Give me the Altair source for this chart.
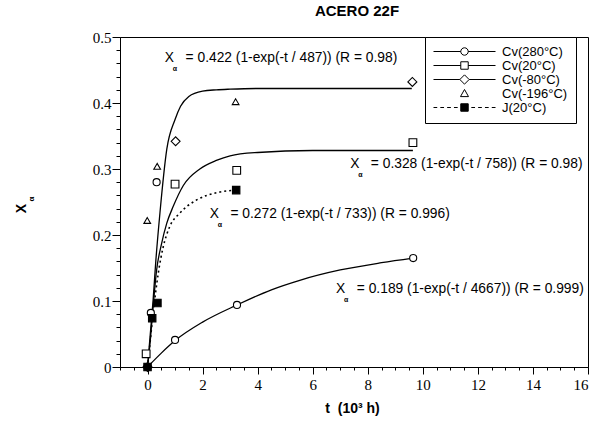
import altair as alt
import pandas as pd

# ---------------- data ----------------
series_names = ["Cv(280°C)", "Cv(20°C)", "Cv(-80°C)", "Cv(-196°C)", "J(20°C)"]

# measured points  (t in 10^3 h, X_alpha)
c280_t = [0.0, 0.12, 0.33, 1.0, 3.25, 9.65]
c280_x = [0.0, 0.082, 0.28, 0.041, 0.094, 0.165]
c20_t = [-0.05, 1.0, 3.24, 9.64]
c20_x = [0.02, 0.277, 0.298, 0.34]
cm80_t = [0.0, 1.02, 9.62]
cm80_x = [0.0, 0.342, 0.432]
cm196_t = [-0.01, 0.35, 3.2]
cm196_x = [0.222, 0.304, 0.402]
j20_t = [0.0, 0.17, 0.36, 3.22]
j20_x = [0.0, 0.074, 0.097, 0.268]

# fitted curves (as drawn)
fit1_t = [0, 0.1, 0.2, 0.3, 0.45, 0.7, 1.0, 1.2, 1.5, 2.0, 2.5, 3.0, 4.0, 6.0, 9.6]
fit1_x = [0, 0.05, 0.10, 0.16, 0.233, 0.33, 0.375, 0.395, 0.41, 0.418, 0.42, 0.421, 0.422, 0.422, 0.422]
fit2_t = [0, 0.1, 0.2, 0.33, 0.5, 0.7, 0.93, 1.3, 1.9, 2.5, 3.0, 4.0, 6.0, 9.64]
fit2_x = [0, 0.04, 0.09, 0.147, 0.185, 0.218, 0.243, 0.275, 0.30, 0.313, 0.32, 0.325, 0.328, 0.328]
fit3_t = [0, 0.1, 0.2, 0.3, 0.39, 0.57, 0.81, 1.17, 1.78, 2.5, 3.22]
fit3_x = [0, 0.04, 0.08, 0.115, 0.142, 0.182, 0.213, 0.233, 0.253, 0.264, 0.268]
fit4_t = [0, 0.5, 1.0, 2.0, 3.25, 4.5, 5.5, 7.0, 8.5, 9.65]
fit4_x = [0, 0.021, 0.04, 0.068, 0.094, 0.117, 0.131, 0.147, 0.158, 0.165]

# equations
NB = "\u00a0"
eq_text = [
    f"X{NB}{NB} = 0.422 (1-exp(-t / 487)) (R = 0.98)",
    f"X{NB}{NB} = 0.328 (1-exp(-t / 758)) (R = 0.98)",
    f"X{NB}{NB} = 0.272 (1-exp(-t / 733)) (R = 0.996)",
    f"X{NB}{NB} = 0.189 (1-exp(-t / 4667)) (R = 0.999)",
]
eq_t = [0.63, 7.36, 2.26, 6.85]
eq_x = [0.468, 0.308, 0.232, 0.118]

x_major_ticks = [0, 2, 4, 6, 8, 10, 12, 14, 16]
x_minor_ticks = [-1, -0.5, 0.5, 1, 1.5, 2.5, 3, 3.5, 4.5, 5, 5.5, 6.5, 7, 7.5, 8.5, 9, 9.5,
                 10.5, 11, 11.5, 12.5, 13, 13.5, 14.5, 15, 15.5]
y_major_ticks = [0, 0.1, 0.2, 0.3, 0.4, 0.5]
y_minor_ticks = [0.02, 0.04, 0.06, 0.08, 0.12, 0.14, 0.16, 0.18, 0.22, 0.24, 0.26, 0.28,
                 0.32, 0.34, 0.36, 0.38, 0.42, 0.44, 0.46, 0.48]

# ---------------- tables ----------------
pts = pd.concat([
    pd.DataFrame({"series": series_names[0], "t": c280_t, "x": c280_x}),
    pd.DataFrame({"series": series_names[1], "t": c20_t, "x": c20_x}),
    pd.DataFrame({"series": series_names[2], "t": cm80_t, "x": cm80_x}),
    pd.DataFrame({"series": series_names[3], "t": cm196_t, "x": cm196_x}),
    pd.DataFrame({"series": series_names[4], "t": j20_t, "x": j20_x}),
], ignore_index=True)

curves = pd.concat([
    pd.DataFrame({"curve": "a", "t": fit1_t, "x": fit1_x}),
    pd.DataFrame({"curve": "b", "t": fit2_t, "x": fit2_x}),
    pd.DataFrame({"curve": "d", "t": fit4_t, "x": fit4_x}),
], ignore_index=True)
dotted = pd.DataFrame({"curve": "c", "t": fit3_t, "x": fit3_x})
eqs = pd.DataFrame({"text": eq_text, "t": eq_t, "x": eq_x})

FONT = "Liberation Sans"
SERIF = "Times New Roman"

xscale = alt.Scale(domain=[-1, 16], nice=False, zero=False)
yscale = alt.Scale(domain=[0, 0.5], nice=False)

xaxis_major = alt.Axis(
    values=x_major_ticks, title=f"t{NB}{NB}(10³ h)", grid=False, orient="bottom",
    labelOverlap=False, labelFont=SERIF, labelFontSize=15, labelColor="black",
    tickSize=7, tickColor="black", domainColor="black", labelPadding=3,
    titleFont=FONT, titleFontSize=14, titleFontWeight="bold", titleColor="black",
    titleX=232, titleY=41, titleBaseline="middle", titleAlign="center",
)
yaxis_major = alt.Axis(
    values=y_major_ticks, title="X", grid=False, orient="left",
    labelExpr="datum.value == 0 ? '0' : format(datum.value, '.1f')",
    labelOverlap=False, labelFont=SERIF, labelFontSize=15, labelColor="black",
    tickSize=8, tickColor="black", domainColor="black", labelPadding=1,
    titleFont=FONT, titleFontSize=14, titleFontWeight="bold", titleColor="black",
    titleX=-99, titleY=171, titleBaseline="middle", titleAlign="center",
)
xaxis_minor = alt.Axis(values=x_minor_ticks, title=None, labels=False, domain=False,
                       grid=False, orient="bottom", tickSize=3, tickColor="black")
yaxis_minor = alt.Axis(values=y_minor_ticks, title=None, labels=False, domain=False,
                       grid=False, orient="left", tickSize=4, tickColor="black")

solid = alt.Chart(curves).mark_line(color="black", strokeWidth=1.3, interpolate="monotone").encode(
    x=alt.X("t:Q", scale=xscale, axis=xaxis_major),
    y=alt.Y("x:Q", scale=yscale, axis=yaxis_major),
    detail="curve:N")
dots = alt.Chart(dotted).mark_line(color="black", strokeWidth=1.6, strokeDash=[2, 3],
                                    interpolate="monotone").encode(
    x=alt.X("t:Q", scale=xscale, axis=xaxis_minor),
    y=alt.Y("x:Q", scale=yscale, axis=yaxis_minor))

NOAX_X = alt.X("t:Q", axis=None)
NOAX_Y = alt.Y("x:Q", axis=None)

shape_of = {
    series_names[0]: ("circle", "white", 50),
    series_names[1]: ("square", "white", 60),
    series_names[2]: ("diamond", "white", 80),
    series_names[3]: ("triangle-up", "white", 45),
    series_names[4]: ("square", "black", 55),
}
point_layers = []
for s in series_names:
    shp, fill, size = shape_of[s]
    point_layers.append(
        alt.Chart(pts).transform_filter(alt.datum.series == s).mark_point(
            shape=shp, fill=fill, stroke="black", strokeWidth=1.1, size=size,
            opacity=1, fillOpacity=1
        ).encode(x=NOAX_X, y=NOAX_Y)
    )

# legend symbols: line + marker drawn as custom paths
leg_paths = [
    "M-1,0H-0.12M0.12,0H1M0.12,0A0.12,0.12,0,1,1,-0.12,0A0.12,0.12,0,1,1,0.12,0Z",
    "M-1,0H-0.12M0.12,0H1M-0.12,-0.12H0.12V0.12H-0.12Z",
    "M-1,0H-0.15M0.15,0H1M0,-0.15L0.15,0L0,0.15L-0.15,0Z",
    "M0,-0.13L0.13,0.1L-0.13,0.1Z",
    "M-1,0H-0.88M-0.78,0H-0.66M-0.56,0H-0.44M-0.34,0H-0.22M0.22,0H0.34M0.44,0H0.56M0.66,0H0.78M0.88,0H1M-0.12,-0.12H0.12V0.12H-0.12Z",
]
leg = alt.Legend(title=None, orient="none", legendX=305, legendY=0, padding=8,
                 strokeColor="black", fillColor="white", clipHeight=13, rowPadding=0,
                 symbolSize=3844, symbolStrokeWidth=1, symbolStrokeColor="black",
                 labelFont=FONT, labelFontSize=13, labelOffset=6, labelColor="black",
                 symbolOpacity=1)
legend_layer = alt.Chart(pts).mark_point(clip=True, opacity=1).encode(
    x=alt.value(-300), y=alt.value(-300),
    shape=alt.Shape("series:N", scale=alt.Scale(domain=series_names, range=leg_paths), legend=leg),
    fill=alt.Fill("series:N", scale=alt.Scale(domain=series_names,
                  range=["white", "white", "white", "white", "black"]), legend=leg),
    stroke=alt.Stroke("series:N", scale=alt.Scale(domain=series_names,
                      range=["black", "black", "black", "black", "black"]), legend=leg),
)

eq_layer = alt.Chart(eqs).mark_text(align="left", baseline="middle", font=FONT,
                                    fontSize=13.8, color="black").encode(
    x=NOAX_X, y=NOAX_Y, text="text:N")
sub_layer = alt.Chart(eqs).mark_text(align="left", baseline="top", font=FONT,
                                     fontSize=7, fontWeight="bold", color="black",
                                     dx=8, dy=7).encode(
    x=NOAX_X, y=NOAX_Y, text=alt.value("α"))
ysub = alt.Chart(eqs).transform_filter("datum.t < 1").mark_text(
    font=FONT, fontSize=8, fontWeight="bold", color="black", angle=270
).encode(x=alt.value(-88), y=alt.value(162), text=alt.value("α"))

chart = alt.layer(
    solid, dots, *point_layers, legend_layer, eq_layer, sub_layer, ysub
).resolve_axis(x="independent", y="independent").properties(
    width=468, height=330,
    title=alt.TitleParams("ACERO 22F", font=FONT, fontSize=15, fontWeight="bold",
                          anchor="middle", offset=11, dx=3, color="black"),
    autosize=alt.AutoSizeParams(type="none"),
    padding={"left": 120, "top": 37, "right": 20, "bottom": 55},
).configure(background="white", font=SERIF).configure_axis(
    labelFont=SERIF).configure_view(stroke="black", strokeWidth=1)

chart.save("out.html", embed_options={"renderer": "svg", "actions": False})
